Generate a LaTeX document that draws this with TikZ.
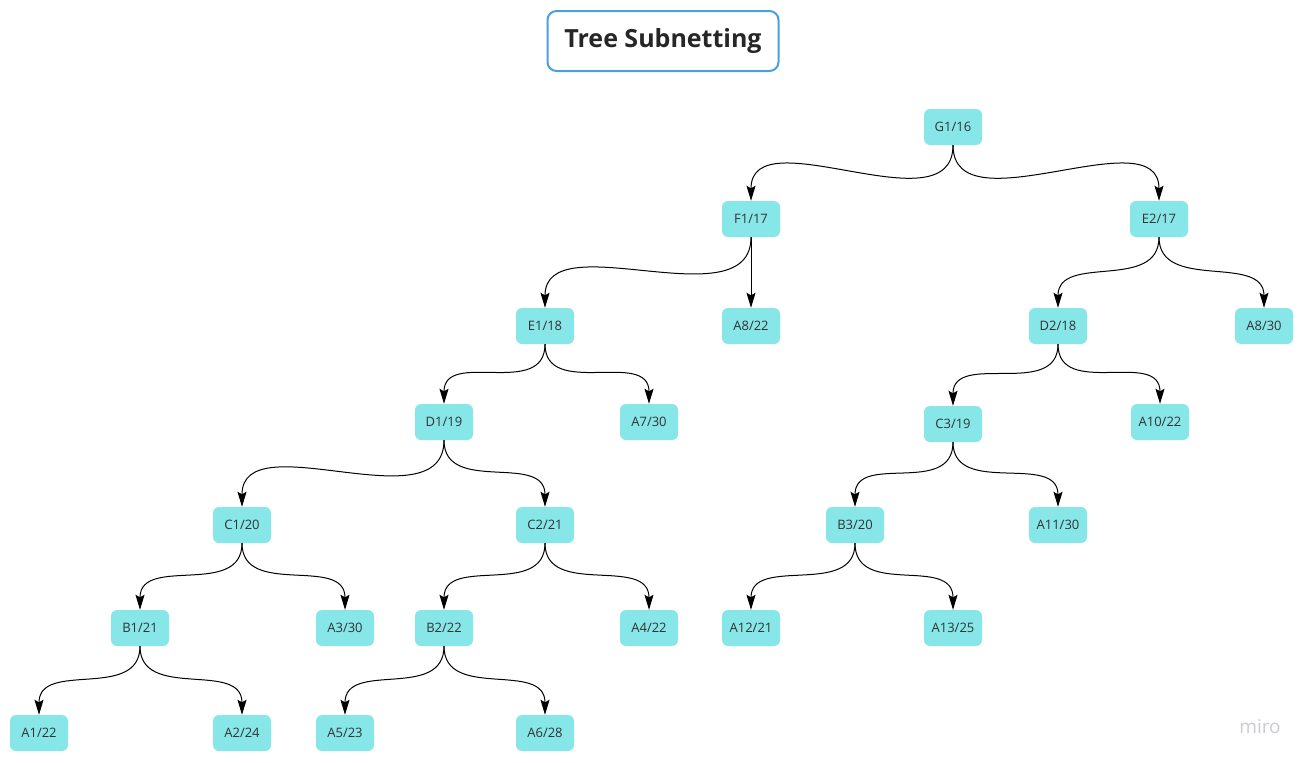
\documentclass[tikz,border=0pt]{standalone}
\usepackage{fontspec}
\setmainfont{Open Sans}
\usetikzlibrary{arrows.meta}
\definecolor{nodefill}{HTML}{87E6E8}
\definecolor{nodetext}{HTML}{333333}
\definecolor{titleborder}{HTML}{4A9FE0}
\definecolor{logogray}{HTML}{C9CAD6}
\begin{document}
\begin{tikzpicture}[x=1pt,y=1pt,
 subnet/.style={fill=nodefill, rounded corners=6pt, minimum width=58pt, minimum height=36pt, inner sep=0pt, text=nodetext, font=\fontsize{13}{15}\selectfont},
 link/.style={line width=1pt, -{Stealth[length=15pt,width=9pt,inset=2.5pt]}},
 bend/.style={to path={.. controls +(0,-#1) and +(0,#1) .. (\tikztotarget)}},
]
\useasboundingbox (0,0) rectangle (1310,-763);
\node[draw=titleborder, line width=2pt, rounded corners=9pt, minimum width=231pt, minimum height=60pt, font=\fontsize{25}{29}\selectfont\bfseries, text=black!85] (title) at (663,-41) {Tree Subnetting};

\node[subnet] (G1) at (953,-127) {G1/16};
\node[subnet] (F1) at (751,-219) {F1/17};
\node[subnet] (E2) at (1159,-219) {E2/17};
\node[subnet] (E1) at (545,-326) {E1/18};
\node[subnet] (A8a) at (751,-326) {A8/22};
\node[subnet] (D2) at (1058,-326) {D2/18};
\node[subnet] (A8b) at (1264,-326) {A8/30};
\node[subnet] (D1) at (444,-422) {D1/19};
\node[subnet] (A7) at (649,-422) {A7/30};
\node[subnet] (C3) at (953,-424) {C3/19};
\node[subnet] (A10) at (1160,-422) {A10/22};
\node[subnet] (C1) at (242,-525) {C1/20};
\node[subnet] (C2) at (545,-525) {C2/21};
\node[subnet] (B3) at (855,-525) {B3/20};
\node[subnet] (A11) at (1058,-525) {A11/30};
\node[subnet] (B1) at (140,-628) {B1/21};
\node[subnet] (A3) at (345,-628) {A3/30};
\node[subnet] (B2) at (444,-628) {B2/22};
\node[subnet] (A4) at (649,-628) {A4/22};
\node[subnet] (A12) at (751,-628) {A12/21};
\node[subnet] (A13) at (953,-628) {A13/25};
\node[subnet] (A1) at (39,-733) {A1/22};
\node[subnet] (A2) at (242,-733) {A2/24};
\node[subnet] (A5) at (345,-733) {A5/23};
\node[subnet] (A6) at (545,-733) {A6/28};

\node[text=logogray, font=\fontsize{19}{22}\selectfont] (logo) at (1260,-727) {miro};

\draw[link] (G1.south) to[bend=85] (F1.north);
\draw[link] (G1.south) to[bend=85] (E2.north);
\draw[link] (F1.south) to[bend=85] (E1.north);
\draw[link] (F1.south) -- (A8a.north);
\draw[link] (E2.south) to[bend=55] (D2.north);
\draw[link] (E2.south) to[bend=55] (A8b.north);
\draw[link] (E1.south) to[bend=55] (D1.north);
\draw[link] (E1.south) to[bend=55] (A7.north);
\draw[link] (D2.south) to[bend=55] (C3.north);
\draw[link] (D2.south) to[bend=55] (A10.north);
\draw[link] (D1.south) to[bend=85] (C1.north);
\draw[link] (D1.south) to[bend=55] (C2.north);
\draw[link] (C3.south) to[bend=55] (B3.north);
\draw[link] (C3.south) to[bend=55] (A11.north);
\draw[link] (C1.south) to[bend=55] (B1.north);
\draw[link] (C1.south) to[bend=55] (A3.north);
\draw[link] (C2.south) to[bend=55] (B2.north);
\draw[link] (C2.south) to[bend=55] (A4.north);
\draw[link] (B3.south) to[bend=55] (A12.north);
\draw[link] (B3.south) to[bend=55] (A13.north);
\draw[link] (B1.south) to[bend=55] (A1.north);
\draw[link] (B1.south) to[bend=55] (A2.north);
\draw[link] (B2.south) to[bend=55] (A5.north);
\draw[link] (B2.south) to[bend=55] (A6.north);
\end{tikzpicture}
\end{document}
